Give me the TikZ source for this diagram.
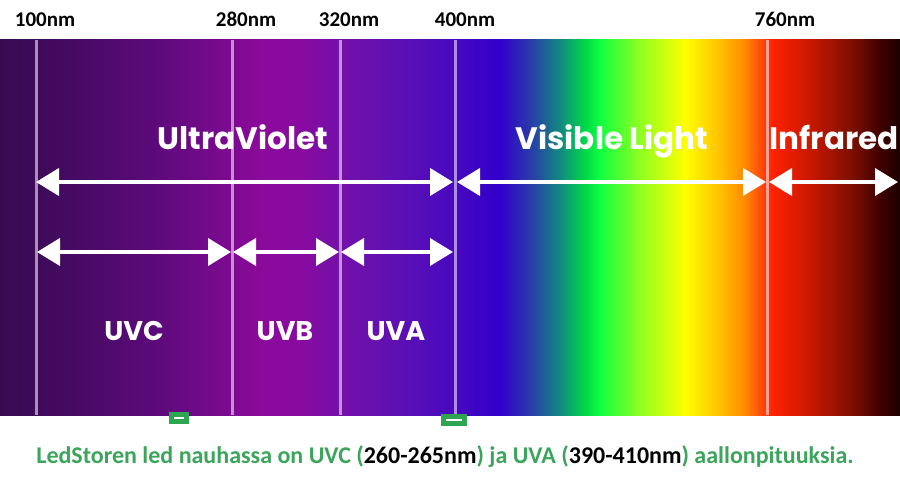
\documentclass[tikz,border=0pt]{standalone}
\usepackage{fontspec}
\setmainfont{Carlito}
\newfontfamily\popfont{Poppins}
\usetikzlibrary{positioning}
\usetikzlibrary{calc}
\usetikzlibrary{arrows.meta}

\definecolor{ledgreen}{HTML}{3AA55B}
\definecolor{markgreen}{HTML}{2EA651}
% spectrum colours, left to right
\definecolor{sp00}{HTML}{380B50}
\definecolor{sp01}{HTML}{3E0A5A}
\definecolor{sp02}{HTML}{5A0A78}
\definecolor{sp03}{HTML}{8A0A9A}
\definecolor{sp04}{HTML}{880AA0}
\definecolor{sp05}{HTML}{7410A8}
\definecolor{sp06}{HTML}{5C10B4}
\definecolor{sp07}{HTML}{4808C0}
\definecolor{sp08}{HTML}{3200CC}
\definecolor{sp09}{HTML}{2A3AAA}
\definecolor{sp10}{HTML}{108A80}
\definecolor{sp11}{HTML}{00D848}
\definecolor{sp12}{HTML}{10FF40}
\definecolor{sp13}{HTML}{90FF20}
\definecolor{sp14}{HTML}{FFFF00}
\definecolor{sp15}{HTML}{FFC000}
\definecolor{sp16}{HTML}{FF8800}
\definecolor{sp17}{HTML}{FF3A10}
\definecolor{sp18}{HTML}{FF2200}
\definecolor{sp19}{HTML}{C81800}
\definecolor{sp20}{HTML}{801000}
\definecolor{sp21}{HTML}{400000}
\definecolor{sp22}{HTML}{1C0000}

\pgfdeclarehorizontalshading{spectrum}{100bp}{%
  color(0bp)=(sp00); color(25bp)=(sp00); color(27bp)=(sp01);
  color(33.33bp)=(sp02); color(39.44bp)=(sp03); color(41.67bp)=(sp04);
  color(43.89bp)=(sp05); color(47.22bp)=(sp06); color(50.28bp)=(sp07);
  color(52.78bp)=(sp08); color(54.44bp)=(sp09); color(56.11bp)=(sp10);
  color(57.5bp)=(sp11); color(58.33bp)=(sp12); color(60.56bp)=(sp13);
  color(63.06bp)=(sp14); color(65bp)=(sp15); color(66.39bp)=(sp16);
  color(67.5bp)=(sp17); color(67.89bp)=(sp18); color(70bp)=(sp19);
  color(72.22bp)=(sp20); color(73.89bp)=(sp21); color(75bp)=(sp22);
  color(100bp)=(sp22)}

\begin{document}
\begin{tikzpicture}[x=1pt,y=-1pt]
		\tikzset{divider/.style = {draw=white, draw opacity=0.55, line width=3pt}}
		\tikzset{span/.style = {<->, > = {Triangle[length=23pt,width=27pt]}, draw=white, line width=4pt}}
		\tikzset{wave/.style = {anchor=base, font=\fontsize{21}{23}\selectfont\bfseries, text=black, inner sep=0pt}}
		\tikzset{region/.style = {anchor=base, font=\popfont\fontsize{31}{33}\selectfont\bfseries, text=white, inner sep=0pt}}
		\tikzset{subregion/.style = {anchor=base, font=\popfont\fontsize{27}{29}\selectfont\bfseries, text=white, inner sep=0pt}}
		\tikzset{stripmark/.style = {fill=markgreen, minimum width=#1, minimum height=12pt, inner sep=0pt}}
		
		\fill[white] (0,0) rectangle (900,489);
		\useasboundingbox (0,0) rectangle (900,489);
		
		% spectrum band
		\shade[shading=spectrum] (0,40) rectangle (900,415);
		
		% boundaries
		\coordinate (top100) at (36,40);   \coordinate (bot100) at (36,415);
		\coordinate (top280) at (232,40);  \coordinate (bot280) at (232,415);
		\coordinate (top320) at (340,40);  \coordinate (bot320) at (340,415);
		\coordinate (top400) at (455,40);  \coordinate (bot400) at (455,415);
		\coordinate (top760) at (767,40);  \coordinate (bot760) at (767,415);
		
		\draw[divider] (top100) -- (bot100);
		\draw[divider] (top280) -- (bot280);
		\draw[divider] (top320) -- (bot320);
		\draw[divider] (top400) -- (bot400);
		\draw[divider] (top760) -- (bot760);
		
		% wavelength labels
		\node[wave] (l100) at (45,27) {100nm};
		\node[wave] (l280) at (246,27) {280nm};
		\node[wave] (l320) at (349,27) {320nm};
		\node[wave] (l400) at (465,27) {400nm};
		\node[wave] (l760) at (785,27) {760nm};
		
		% region labels
		\node[region] (uv) at (243,150) {UltraViolet};
		\node[region] (vis) at (612,150) {Visible Light};
		\node[region] (ir) at (834,150) {Infrared};
		
		\node[subregion] (uvc) at (134,340) {UVC};
		\node[subregion] (uvb) at (285,340) {UVB};
		\node[subregion] (uva) at (396,340) {UVA};
		
		% arrow ends
		\coordinate (a100) at (36,182);   \coordinate (a400l) at (453,182);
		\coordinate (a400r) at (457,182); \coordinate (a760l) at (766,182);
		\coordinate (a760r) at (769,182); \coordinate (aend) at (898,182);
		\coordinate (b100) at (37,252);   \coordinate (b280l) at (231,252);
		\coordinate (b280r) at (233,252); \coordinate (b320l) at (339,252);
		\coordinate (b320r) at (341,252); \coordinate (b400) at (453,252);
		
		%edges
		\draw[span] (a100) -- (a400l);
		\draw[span] (a400r) -- (a760l);
		\draw[span] (a760r) -- (aend);
		\draw[span] (b100) -- (b280l);
		\draw[span] (b280r) -- (b320l);
		\draw[span] (b320r) -- (b400);
		
		% markers
		\node[stripmark=20pt] (mark1) at (179,418) {\color{white}\rule[-1pt]{10pt}{2pt}};
		\node[stripmark=26pt] (mark2) at (454,420) {\color{white}\rule[-1pt]{16pt}{2pt}};
		
		% note
		\node[anchor=base, font=\fontsize{24}{26}\selectfont\bfseries, text=ledgreen, inner sep=0pt] (note) at (445,463)
		{LedStoren led nauhassa on UVC (\textcolor{black}{260-265nm}) ja UVA (\textcolor{black}{390-410nm}) aallonpituuksia.};
		
\end{tikzpicture}
\end{document}
